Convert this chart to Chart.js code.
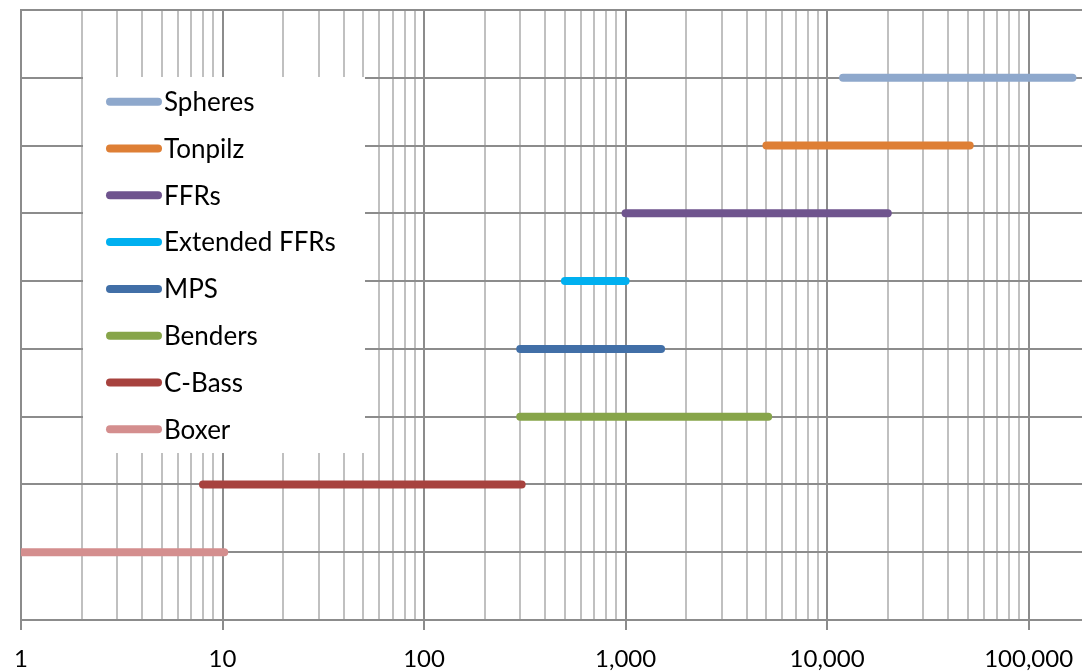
<!DOCTYPE html>
<html>
<head>
<meta charset="utf-8">
<script src="https://cdn.jsdelivr.net/npm/chart.js@4/dist/chart.umd.min.js"></script>
<style>
  html, body { margin: 0; padding: 0; background: #fff; }
  #wrap { width: 1082px; height: 671px; }
</style>
</head>
<body>
<div id="wrap"><canvas id="grafica"></canvas></div>
<script>
// series, top to bottom as in the legend
const nombres = ["Spheres", "Tonpilz", "FFRs", "Extended FFRs", "MPS", "Benders", "C-Bass", "Boxer"];
const niveles = [8, 7, 6, 5, 4, 3, 2, 1];
const desde = [12000, 5000, 1000, 500, 300, 300, 8, 1];
const hasta = [165000, 51000, 20000, 1000, 1500, 5100, 305, 10.2];
const colores = ["#8EA8CC", "#DE7F35", "#6F548E", "#00B0F0", "#416FA7", "#87A54A", "#A7423E", "#D48E8E"];

// x axis ticks (log decades) and labels
const decadas = [1, 10, 100, 1000, 10000, 100000];
const etiquetas = ["1", "10", "100", "1,000", "10,000", "100,000"];

const xMin = 1;
const xMax = 184000;

// grid line values 1..9 per decade
const lineasX = [];
decadas.forEach(d => {
  for (let k = 1; k <= 9; k++) {
    const v = d * k;
    if (v <= xMax) lineasX.push(v);
  }
});

const datasets = nombres.map((n, i) => ({
  label: n,
  data: [{ x: desde[i], y: niveles[i] }, { x: hasta[i], y: niveles[i] }],
  borderColor: colores[i],
  backgroundColor: colores[i],
  borderWidth: 8,
  borderCapStyle: "round",
  pointRadius: 0,
  fill: false
}));

// legend box drawn inside the plot, like the original
const leyendaPlugin = {
  id: "leyendaCaja",
  afterDraw(chart) {
    const ctx = chart.ctx;
    ctx.save();
    ctx.fillStyle = "#ffffff";
    ctx.fillRect(83, 77, 282, 376);
    ctx.font = "26px Lato";
    ctx.textBaseline = "middle";
    chart.data.datasets.forEach((ds, i) => {
      const y = 101.7 + i * 46.8;
      ctx.strokeStyle = ds.borderColor;
      ctx.lineWidth = 8;
      ctx.lineCap = "round";
      ctx.beginPath();
      ctx.moveTo(110, y);
      ctx.lineTo(158, y);
      ctx.stroke();
      ctx.fillStyle = "#000000";
      ctx.fillText(ds.label, 164, y + 1);
    });
    ctx.restore();
  }
};

const ctx = document.getElementById("grafica").getContext("2d");
new Chart(ctx, {
  type: "line",
  data: { datasets },
  options: {
    responsive: true,
    maintainAspectRatio: false,
    animation: false,
    layout: { padding: { left: 21, top: 10, right: 0, bottom: 0 } },
    plugins: {
      legend: { display: false },
      tooltip: { enabled: false }
    },
    scales: {
      x: {
        type: "logarithmic",
        min: xMin,
        max: xMax,
        afterBuildTicks: (axis) => {
          axis.ticks = lineasX.map(v => ({ value: v, major: decadas.includes(v) }));
        },
        afterFit: (scale) => {
          scale.height = 51;
          scale.paddingLeft = 0;
          scale.paddingRight = 0;
        },
        ticks: {
          autoSkip: false,
          maxRotation: 0,
          minRotation: 0,
          padding: 15,
          color: "#000000",
          font: { family: "Lato", size: 24 },
          callback: (v) => {
            const i = decadas.indexOf(v);
            return i >= 0 ? etiquetas[i] : "";
          }
        },
        grid: {
          color: (c) => (c.tick && decadas.includes(c.tick.value) ? "#8c8c8c" : "#c0c0c0"),
          tickColor: (c) => (c.tick && decadas.includes(c.tick.value) ? "#8c8c8c" : "rgba(0,0,0,0)"),
          lineWidth: 2,
          tickLength: 10
        },
        border: { color: "#8c8c8c", width: 2 }
      },
      y: {
        type: "linear",
        min: 0,
        max: 9,
        ticks: { display: false, stepSize: 1 },
        grid: { color: "#8c8c8c", lineWidth: 2, drawTicks: false },
        border: { color: "#8c8c8c", width: 2 }
      }
    }
  },
  plugins: [leyendaPlugin]
});
</script>
</body>
</html>
